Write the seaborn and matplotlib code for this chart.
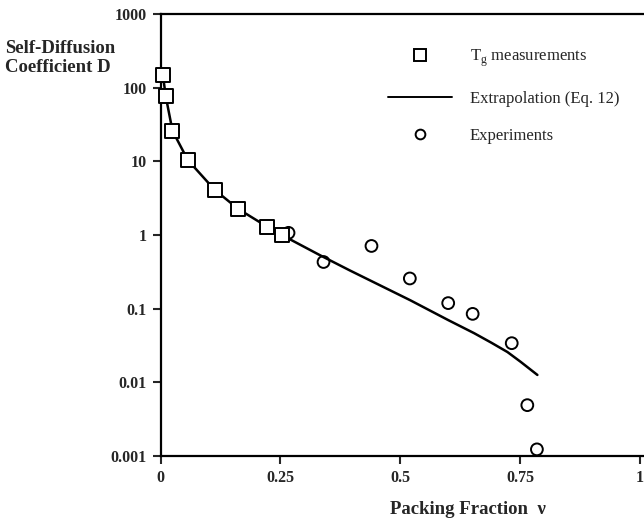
import matplotlib
matplotlib.use("Agg")
import matplotlib.pyplot as plt
import seaborn as sns
import pandas as pd
from matplotlib.lines import Line2D

# ---- data ----
tg_x = [0.005, 0.011, 0.025, 0.057, 0.113, 0.162, 0.222, 0.253]
tg_D = [148, 76, 26, 10.4, 4.1, 2.26, 1.30, 1.0]

extrap_x = [0.005, 0.011, 0.025, 0.057, 0.113, 0.162, 0.222, 0.253,
            0.333, 0.395, 0.521, 0.600, 0.654, 0.690, 0.7235, 0.751, 0.786]
extrap_D = [148, 76, 26, 10.4, 4.1, 2.26, 1.30, 1.0,
            0.53, 0.33, 0.13, 0.070, 0.0465, 0.0345, 0.0258, 0.0190, 0.0126]

exp_x = [0.267, 0.340, 0.440, 0.520, 0.600, 0.651, 0.7325, 0.765, 0.785]
exp_D = [1.07, 0.43, 0.71, 0.257, 0.119, 0.085, 0.034, 0.0049, 0.00123]

x_ticks = [0, 0.25, 0.5, 0.75, 1]
x_tick_labels = ["0", "0.25", "0.5", "0.75", "1"]
y_ticks = [0.001, 0.01, 0.1, 1, 10, 100, 1000]
y_tick_labels = ["0.001", "0.01", "0.1", "1", "10", "100", "1000"]

legend_labels = ["T$_\\mathregular{g}$ measurements", "Extrapolation (Eq. 12)", "Experiments"]

# ---- style ----
sns.set_style("ticks")
plt.rcParams["font.family"] = ["Liberation Serif", "DejaVu Serif"]
plt.rcParams["mathtext.fontset"] = "custom"
plt.rcParams["mathtext.rm"] = "Liberation Serif"

W, H = 644, 523
fig = plt.figure(figsize=(W / 100, H / 100), dpi=100)
x0_px, x1_px = 160.5, 644
ytop_px, ybot_px = 14, 456
ax = fig.add_axes([x0_px / W, (H - ybot_px) / H, (x1_px - x0_px) / W, (ybot_px - ytop_px) / H])

df_line = pd.DataFrame({"x": extrap_x, "D": extrap_D})
df_tg = pd.DataFrame({"x": tg_x, "D": tg_D})
df_exp = pd.DataFrame({"x": exp_x, "D": exp_D})

sns.lineplot(data=df_line, x="x", y="D", ax=ax, color="black", lw=1.8,
             sort=False, estimator=None, zorder=3)
sns.scatterplot(data=df_exp, x="x", y="D", ax=ax, marker="o", s=72,
                facecolor="none", edgecolor="black", linewidth=1.4, zorder=4, clip_on=False)
sns.scatterplot(data=df_tg, x="x", y="D", ax=ax, marker="s", s=100,
                color="white", edgecolor="black", linewidth=1.4, zorder=5, clip_on=False)

ax.set_yscale("log")
ax.set_xlim(0, (x1_px - x0_px) / 479.5)
ax.set_ylim(0.001, 1000)
ax.set_xticks(x_ticks)
ax.set_xticklabels(x_tick_labels)
ax.set_yticks(y_ticks)
ax.set_yticklabels(y_tick_labels)
ax.minorticks_off()
ax.tick_params(axis="both", direction="out", length=6, width=1.5, labelsize=11.5, pad=4)
for lab in ax.get_xticklabels() + ax.get_yticklabels():
    lab.set_fontweight("bold")

for side in ["left", "bottom", "top"]:
    ax.spines[side].set_linewidth(1.6)
    ax.spines[side].set_color("black")
ax.spines["right"].set_visible(False)

ax.set_xlabel("")
ax.set_ylabel("")
fig.text(5 / W, 1 - 58 / H, "Self-Diffusion\nCoefficient D", ha="left", va="center",
         fontsize=13.5, fontweight="bold", linespacing=1.1)
fig.text(390 / W, 1 - 510 / H, "Packing Fraction  \u03bd", ha="left", va="center",
         fontsize=13.5, fontweight="bold")

handles = [
    Line2D([], [], marker="s", ls="none", markersize=8, markerfacecolor="white",
           markeredgecolor="black", markeredgewidth=1.4),
    Line2D([], [], color="black", lw=1.4),
    Line2D([], [], marker="o", ls="none", markersize=7, markerfacecolor="white",
           markeredgecolor="black", markeredgewidth=1.4),
]
leg = ax.legend(handles, legend_labels, frameon=False, fontsize=12,
                loc="upper left", bbox_to_anchor=(388 / W, 1 - 48 / H),
                bbox_transform=fig.transFigure, handlelength=3.84, handletextpad=1.05,
                labelspacing=1.28, borderaxespad=0, borderpad=0)

fig.savefig("out.png", dpi=100)
